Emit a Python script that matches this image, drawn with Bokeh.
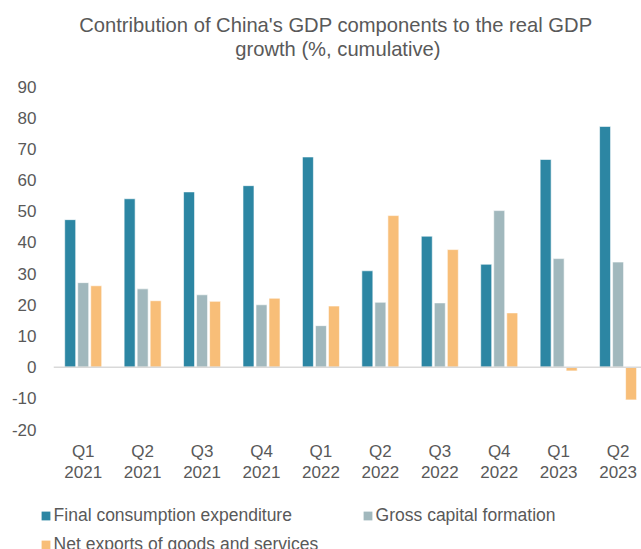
import numpy as np
from bokeh.plotting import figure
from bokeh.layouts import column
from bokeh.models import (ColumnDataSource, FixedTicker, Span, Legend, LegendItem,
                          Title, Range1d)
from bokeh.transform import dodge
from bokeh.embed import file_html
from bokeh.resources import INLINE

# ---- data ----
quarters = ["Q1", "Q2", "Q3", "Q4", "Q1", "Q2", "Q3", "Q4", "Q1", "Q2"]
years = ["2021", "2021", "2021", "2021", "2022", "2022", "2022", "2022", "2023", "2023"]
consumption = [47.3, 54.0, 56.2, 58.2, 67.4, 30.9, 42.0, 33.0, 66.6, 77.2]
capital = [27.1, 25.1, 23.2, 20.0, 13.3, 20.8, 20.6, 50.2, 34.8, 33.7]
net_exports = [26.1, 21.3, 21.1, 22.1, 19.6, 48.6, 37.7, 17.4, -1.2, -10.5]
y_ticks = [-20, -10, 0, 10, 20, 30, 40, 50, 60, 70, 80, 90]
y_labels = ["-20", "-10", "0", "10", "20", "30", "40", "50", "60", "70", "80", "90"]
series_names = ["Final consumption expenditure", "Gross capital formation",
                "Net exports of goods and services"]
title_lines = ["Contribution of China's GDP components to the real GDP",
               "growth (%, cumulative)"]

FONT = "Liberation Sans"
TXT = "#595959"
C1, C2, C3 = "#2C86A3", "#A1B8BD", "#F8BE78"

labels = [f"{q}\n{y}" for q, y in zip(quarters, years)]
xpos = [i + 0.5 for i in range(len(labels))]
src = ColumnDataSource(dict(x=xpos, c=consumption, g=capital, n=net_exports))

p = figure(width=641, height=500, output_backend="svg", toolbar_location=None,
           x_range=Range1d(0, 9.894), y_range=Range1d(-20, 90),
           min_border_left=53, min_border_right=0, min_border_top=86,
           min_border_bottom=71)
p.outline_line_color = None
p.grid.visible = False
p.background_fill_color = "white"
p.border_fill_color = "white"

bw = 0.185
off = 0.219
r1 = p.vbar(x=dodge("x", -off), top="c", bottom=0, width=bw, source=src,
            fill_color=C1, line_color="white", line_width=0.6)
r2 = p.vbar(x=dodge("x", 0), top="g", bottom=0, width=bw, source=src,
            fill_color=C2, line_color="white", line_width=0.6)
r3 = p.vbar(x=dodge("x", off), top="n", bottom=0, width=bw, source=src,
            fill_color=C3, line_color="white", line_width=0.6)

p.add_layout(Span(location=0, dimension="width", line_color="#D9D9D9", line_width=1.5))

# axes
p.xaxis.ticker = FixedTicker(ticks=xpos)
p.xaxis.major_label_overrides = dict(zip(xpos, labels))
p.yaxis.ticker = FixedTicker(ticks=y_ticks)
p.yaxis.major_label_overrides = dict(zip(y_ticks, y_labels))
for ax in (p.xaxis, p.yaxis):
    ax.axis_line_color = None
    ax.major_tick_line_color = None
    ax.minor_tick_line_color = None
    ax.major_tick_out = 0
    ax.major_tick_in = 0
    ax.major_label_text_font = FONT
    ax.major_label_text_font_size = "17px"
    ax.major_label_text_color = TXT
p.xaxis.major_label_standoff = 12
p.xaxis.major_label_text_line_height = 1.12
p.yaxis.major_label_standoff = 17

# title: two lines, each centred like the reference
t2 = Title(text=title_lines[1] + "\n", align="left", offset=181.7, standoff=2,
           text_font=FONT, text_font_size="20.2px", text_font_style="normal",
           text_color=TXT, text_line_height=1.15)
t1 = Title(text=title_lines[0], align="left", offset=25.7, standoff=0,
           text_font=FONT, text_font_size="20.2px", text_font_style="normal",
           text_color=TXT)
p.add_layout(t2, "above")
p.add_layout(t1, "above")

# ---- legend strip below the chart ----
# its x range lies away from the data, so the swatch renderers draw no bars here
lf = figure(width=641, height=49, output_backend="svg", toolbar_location=None,
            x_axis_location=None, y_axis_location=None, min_border=0,
            x_range=Range1d(-30, -29), y_range=Range1d(-30, -29))
lf.outline_line_color = None
lf.grid.visible = False
lf.background_fill_color = "white"
lf.border_fill_color = "white"
p.frame_align = False
lf.frame_align = False

k1 = lf.vbar(x="x", top="c", width=0.1, source=src, fill_color=C1, line_color=None)
k2 = lf.vbar(x="x", top="g", width=0.1, source=src, fill_color=C2, line_color=None)
k3 = lf.vbar(x="x", top="n", width=0.1, source=src, fill_color=C3, line_color=None)


def mk_legend(items, loc):
    return Legend(items=items, location=loc, orientation="vertical",
                  padding=0, margin=0, spacing=8, label_height=21,
                  glyph_width=11, glyph_height=11, label_standoff=3,
                  label_text_font=FONT, label_text_font_size="17.5px",
                  label_text_color=TXT, border_line_color=None,
                  background_fill_alpha=0)


lgA = mk_legend([LegendItem(label=series_names[0], renderers=[k1]),
                 LegendItem(label=series_names[2], renderers=[k3])], (39.6, -5.5))
lgB = mk_legend([LegendItem(label=series_names[1], renderers=[k2])], (361.6, 23.5))
lf.add_layout(lgA, "center")
lf.add_layout(lgB, "center")

layout = column(p, lf, spacing=0)
open("out.html", "w").write(file_html(layout, INLINE))
